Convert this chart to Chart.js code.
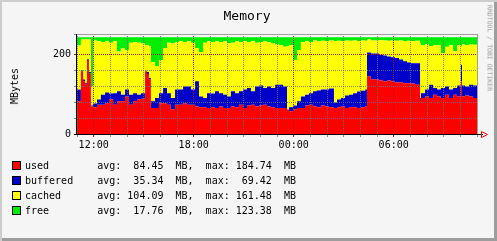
<!DOCTYPE html>
<html lang="en">
<head>
    <meta charset="UTF-8">
    <title>Memory</title>
    <style>
        body {
            margin: 0;
            background: #ffffff;
        }
        #box {
            position: relative;
            width: 497px;
            height: 241px;
            background: #f5f5f5;
            font-family: "DejaVu Sans Mono", monospace;
            overflow: hidden;
        }
        #frame {
            position: absolute;
            left: 0; top: 0;
            width: 497px; height: 241px;
            box-shadow: inset 2px 2px 0 #cdcdcd, inset -3px -3px 0 #9d9d9d;
            pointer-events: none;
        }
        #memChart {
            position: absolute;
            left: 0; top: 0;
        }
        .title {
            position: absolute;
            left: 0; width: 494px;
            top: 9px;
            text-align: center;
            font-size: 13px;
            line-height: 13px;
        }
        .ylabel {
            position: absolute;
            left: 15px; top: 86px;
            font-size: 10px;
            line-height: 10px;
            transform: translate(-50%, -50%) rotate(-90deg);
            white-space: nowrap;
        }
        .credit {
            position: absolute;
            left: 489px; top: 48px;
            font-size: 6.5px;
            line-height: 7px;
            color: #9a9a9a;
            transform: translate(-50%, -50%) rotate(90deg);
            white-space: nowrap;
        }
        .legend {
            position: absolute;
            left: 12px;
            font-size: 10px;
            line-height: 10px;
            white-space: pre;
        }
        .legend span.sw {
            display: inline-block;
            width: 7px; height: 7px;
            border: 1px solid #000;
            margin-right: 4px;
            vertical-align: -1px;
        }
    </style>
    <script src="https://cdn.jsdelivr.net/npm/chart.js"></script>
</head>
<body>
<div id="box">
    <canvas id="memChart" width="497" height="241"></canvas>
    <div class="title">Memory</div>
    <div class="ylabel">MBytes</div>
    <div class="credit">RRDTOOL / TOBI OETIKER</div>
    <div id="legend"></div>
    <div id="frame"></div>
</div>

<script>
    // minutes since 11:00 (one step ~ one rrd column group)
    const times = [0,14,22,29,36,43,50,58,72,86,101,115,130,144,158,173,187,202,216,230,
        245,252,259,266,281,295,310,324,338,353,367,382,396,410,425,439,454,468,482,497,
        511,526,540,554,569,583,598,612,626,641,655,670,684,698,713,727,742,756,763,778,
        792,806,821,835,850,864,878,893,907,925,936,950,965,979,994,1008,1022,1037,1044,1058,
        1073,1087,1102,1116,1130,1145,1159,1174,1188,1202,1217,1235,1238,1253,1267,1282,1296,1310,1325,1339,
        1354,1368,1382,1386,1397,1411,1426,1440];

    const used = [82,157,132,123,185,152,69,67,73,73,77,86,73,82,82,94,73,82,86,88,
        157,150,136,65,65,77,77,73,61,73,73,77,73,73,69,67,67,65,67,65,
        69,65,65,69,67,73,65,71,73,69,71,73,69,67,65,65,65,61,57,61,
        65,65,71,73,69,67,71,69,67,65,67,69,65,67,67,65,67,69,144,136,
        136,134,131,134,131,129,129,127,127,126,123,82,90,94,90,98,94,90,98,90,
        98,94,132,94,96,94,90,90];

    const buffered = [29,2,4,4,2,3,2,9,13,25,27,15,29,25,16,17,25,20,12,14,
        1,5,4,17,25,25,38,29,29,38,38,42,46,38,63,27,23,37,34,42,
        33,33,29,38,35,34,46,44,34,50,50,42,50,48,58,58,54,0,10,10,
        17,29,27,29,38,42,40,42,47,14,19,21,31,31,35,41,41,42,60,65,
        65,64,65,60,61,61,57,55,52,51,54,8,12,17,33,17,17,25,21,21,
        17,27,41,27,23,29,31,31];

    const cached = [110,77,100,109,49,81,48,158,146,132,128,127,130,99,116,99,130,128,130,124,
        64,67,80,98,80,83,100,126,136,119,121,111,113,117,83,111,138,130,129,125,
        128,134,132,121,130,123,121,115,125,109,109,117,111,111,101,99,99,159,155,114,
        128,136,134,128,127,123,122,121,120,153,147,142,138,135,132,126,126,122,32,33,
        33,37,38,39,42,43,48,50,54,55,56,136,120,113,97,107,111,87,99,111,
        92,101,47,103,103,101,102,102];

    const free = [21,6,6,6,6,6,123,8,10,12,10,14,10,36,28,32,14,12,14,16,
        20,20,22,62,72,57,27,14,16,12,10,12,10,14,27,37,14,10,12,10,
        12,10,16,14,10,12,10,12,10,14,12,10,12,16,18,20,24,22,20,57,
        32,12,10,12,8,10,9,10,8,10,9,10,8,9,8,10,8,9,6,8,
        8,7,8,9,8,9,8,10,9,10,9,16,20,18,22,20,20,40,24,20,
        35,20,22,18,20,18,19,19];

    const seriesNames = ['used', 'buffered', 'cached', 'free'];
    const seriesColors = ['#ff0000', '#0000c8', '#ffff00', '#00ee00'];
    const avgValues = [84.45, 35.34, 104.09, 17.76];
    const maxValues = [184.74, 69.42, 161.48, 123.38];

    const yTicksShown = [0, 100, 200];
    const startHour = 11;

    // legend rows, rrdtool style
    const legendDiv = document.getElementById('legend');
    seriesNames.forEach((name, i) => {
        const row = document.createElement('div');
        row.className = 'legend';
        row.style.top = (161 + i * 15) + 'px';
        const sw = document.createElement('span');
        sw.className = 'sw';
        sw.style.background = seriesColors[i];
        row.appendChild(sw);
        const txt = name.padEnd(12) + 'avg: ' + avgValues[i].toFixed(2).padStart(6) +
            '  MB,  max: ' + maxValues[i].toFixed(2).padStart(6) + '  MB';
        row.appendChild(document.createTextNode(txt));
        legendDiv.appendChild(row);
    });

    const allSeries = [used, buffered, cached, free];
    const datasets = allSeries.map((vals, i) => ({
        label: seriesNames[i],
        data: times.map((t, k) => ({ x: t, y: vals[k] })),
        backgroundColor: seriesColors[i],
        borderWidth: 0,
        pointRadius: 0,
        stepped: true, // value holds until next sample
        fill: i === 0 ? 'origin' : '-1'
    }));

    // axis lines, frame and arrow like rrdtool
    const framePlugin = {
        id: 'rrdFrame',
        afterDraw(chart) {
            const ctx = chart.ctx;
            const a = chart.chartArea;
            ctx.save();
            ctx.lineWidth = 1;
            ctx.strokeStyle = '#a0a0a0';
            ctx.beginPath();
            ctx.moveTo(a.left, a.top + 0.5);
            ctx.lineTo(a.right + 0.5, a.top + 0.5);
            ctx.lineTo(a.right + 0.5, a.bottom);
            ctx.stroke();
            ctx.strokeStyle = '#000000';
            ctx.beginPath();
            ctx.moveTo(a.left - 0.5, a.top);
            ctx.lineTo(a.left - 0.5, a.bottom + 0.5);
            ctx.moveTo(a.left - 3, a.bottom + 0.5);
            ctx.lineTo(a.right + 6, a.bottom + 0.5);
            ctx.stroke();
            ctx.strokeStyle = '#ff0000';
            ctx.beginPath();
            ctx.moveTo(a.right + 4.5, a.bottom - 2.5);
            ctx.lineTo(a.right + 10.5, a.bottom + 0.5);
            ctx.lineTo(a.right + 4.5, a.bottom + 3.5);
            ctx.closePath();
            ctx.stroke();
            ctx.restore();
        }
    };

    function gridColor(isMajor) {
        return isMajor ? '#a01818' : 'rgba(110,110,130,0.8)';
    }

    new Chart(document.getElementById('memChart'), {
        type: 'line',
        data: { datasets: datasets },
        options: {
            responsive: false,
            animation: false,
            events: [],
            layout: { padding: { left: 0, top: 34, right: 20, bottom: 87 } },
            plugins: { legend: { display: false }, tooltip: { enabled: false } },
            scales: {
                x: {
                    type: 'linear',
                    min: 0,
                    max: 1440,
                    afterFit: (s) => { s.height = 20; },
                    border: { display: false, dash: [1, 1] },
                    grid: {
                        z: 1,
                        color: (c) => gridColor(c.tick && (c.tick.value - 60) % 360 === 0),
                        tickColor: (c) => gridColor(c.tick && (c.tick.value - 60) % 360 === 0),
                        tickLength: 3
                    },
                    ticks: {
                        stepSize: 60,
                        autoSkip: false,
                        maxRotation: 0,
                        padding: 2,
                        color: '#000',
                        font: { family: 'DejaVu Sans Mono', size: 10 },
                        callback: (v) => {
                            if ((v - 60) % 360 !== 0) return '';
                            const h = (startHour + v / 60) % 24;
                            return String(h).padStart(2, '0') + ':00';
                        }
                    }
                },
                y: {
                    stacked: true,
                    min: 0,
                    max: 250,
                    afterFit: (s) => { s.width = 77; },
                    border: { display: false, dash: [1, 1] },
                    grid: {
                        z: 1,
                        color: (c) => gridColor(c.tick && c.tick.value % 100 === 0),
                        tickColor: (c) => gridColor(c.tick && c.tick.value % 100 === 0),
                        tickLength: 3
                    },
                    ticks: {
                        stepSize: 20,
                        padding: 3,
                        color: '#000',
                        font: { family: 'DejaVu Sans Mono', size: 10 },
                        callback: (v) => yTicksShown.includes(v) ? String(v) : ''
                    }
                }
            }
        },
        plugins: [framePlugin]
    });
</script>
</body>
</html>
